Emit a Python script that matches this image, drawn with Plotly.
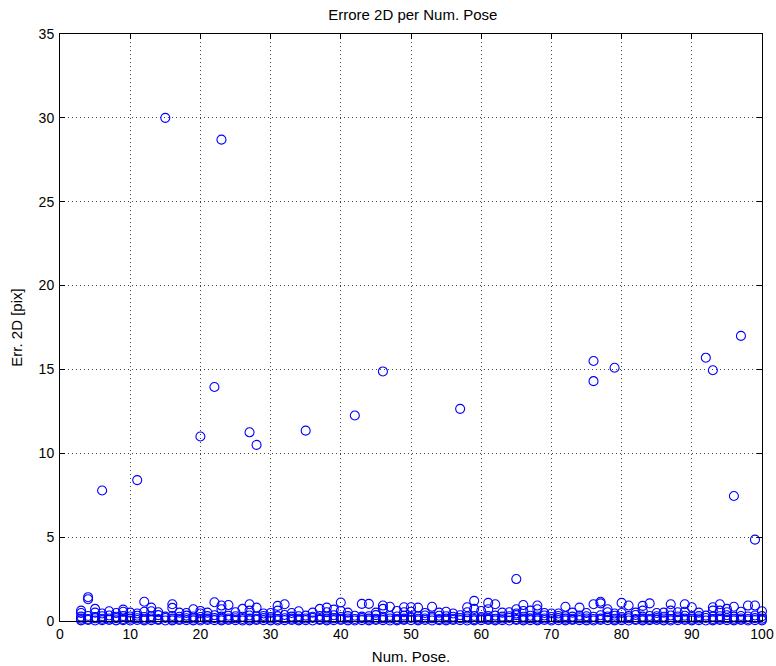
import plotly.graph_objects as go

# Pose indices recorded in the test run
poses = list(range(3, 101))

# Three lowest reprojection errors for every pose [pix]
err_low = [0.04, 0.06, 0.03, 0.05, 0.07, 0.04, 0.05, 0.03, 0.06, 0.04,
           0.05, 0.07, 0.03, 0.04, 0.06, 0.05, 0.04, 0.03, 0.06, 0.05,
           0.04, 0.07, 0.05, 0.03, 0.04, 0.06, 0.05, 0.04, 0.03, 0.05,
           0.06, 0.04, 0.05, 0.03, 0.07, 0.04, 0.05, 0.06, 0.04, 0.03,
           0.05, 0.04, 0.06, 0.05, 0.03, 0.04, 0.07, 0.05, 0.04, 0.06,
           0.03, 0.05, 0.04, 0.06, 0.05, 0.03, 0.04, 0.05, 0.07, 0.04,
           0.05, 0.03, 0.06, 0.04, 0.05, 0.04, 0.06, 0.03, 0.05, 0.04,
           0.07, 0.05, 0.04, 0.03, 0.06, 0.05, 0.04, 0.05, 0.03, 0.06,
           0.04, 0.05, 0.07, 0.04, 0.03, 0.05, 0.06, 0.04, 0.05, 0.03,
           0.04, 0.06, 0.05, 0.04, 0.07, 0.03, 0.05, 0.04]
err_mid = [0.14, 0.12, 0.16, 0.13, 0.15, 0.17, 0.12, 0.14, 0.16, 0.13,
           0.15, 0.12, 0.18, 0.14, 0.13, 0.16, 0.15, 0.12, 0.14, 0.17,
           0.13, 0.15, 0.16, 0.12, 0.14, 0.13, 0.17, 0.15, 0.12, 0.16,
           0.14, 0.13, 0.15, 0.18, 0.12, 0.14, 0.16, 0.13, 0.15, 0.12,
           0.17, 0.14, 0.13, 0.16, 0.15, 0.12, 0.14, 0.18, 0.13, 0.15,
           0.16, 0.12, 0.14, 0.13, 0.17, 0.15, 0.12, 0.16, 0.14, 0.13,
           0.15, 0.18, 0.12, 0.14, 0.16, 0.13, 0.15, 0.12, 0.17, 0.14,
           0.13, 0.16, 0.15, 0.12, 0.14, 0.18, 0.13, 0.15, 0.16, 0.12,
           0.14, 0.13, 0.17, 0.15, 0.12, 0.16, 0.14, 0.13, 0.15, 0.18,
           0.12, 0.14, 0.16, 0.13, 0.15, 0.12, 0.17, 0.14]
err_high = [0.26, 0.30, 0.24, 0.28, 0.33, 0.25, 0.29, 0.27, 0.31, 0.24,
            0.28, 0.35, 0.26, 0.30, 0.25, 0.32, 0.27, 0.24, 0.29, 0.34,
            0.26, 0.31, 0.28, 0.25, 0.33, 0.27, 0.30, 0.24, 0.29, 0.36,
            0.26, 0.28, 0.32, 0.25, 0.30, 0.27, 0.34, 0.24, 0.29, 0.31,
            0.26, 0.28, 0.35, 0.25, 0.30, 0.27, 0.32, 0.24, 0.29, 0.33,
            0.26, 0.31, 0.28, 0.25, 0.34, 0.27, 0.30, 0.24, 0.29, 0.32,
            0.26, 0.28, 0.35, 0.25, 0.31, 0.27, 0.33, 0.24, 0.30, 0.29,
            0.26, 0.32, 0.28, 0.25, 0.34, 0.27, 0.31, 0.24, 0.29, 0.36,
            0.26, 0.30, 0.28, 0.25, 0.33, 0.27, 0.31, 0.24, 0.29, 0.32,
            0.26, 0.28, 0.34, 0.25, 0.30, 0.27, 0.33, 0.29]

# Further errors, pose by pose
extra_pose = [3, 3, 4, 4, 5, 5, 6, 6, 7, 8, 9, 9, 10, 11, 11, 12, 12, 13, 13,
              14, 15, 16, 16, 17, 18, 19, 20, 20, 20, 21, 22, 22, 23, 23, 23,
              24, 25, 26, 27, 27, 27, 28, 28, 29, 30, 31, 31, 32, 33, 34, 35,
              36, 37, 38, 38, 39, 40, 40, 41, 42, 43, 44, 45, 46, 46, 46, 47,
              48, 49, 49, 50, 50, 51, 52, 53, 54, 55, 56, 57, 58, 58, 59, 59,
              60, 61, 61, 62, 63, 64, 65, 65, 65, 66, 66, 67, 68, 68, 69, 70,
              71, 72, 73, 74, 75, 76, 76, 76, 77, 77, 78, 78, 79, 79, 80, 80,
              81, 82, 83, 83, 84, 85, 86, 87, 87, 88, 89, 89, 90, 91, 92, 93,
              93, 93, 94, 94, 95, 95, 96, 96, 97, 97, 98, 99, 99, 100]
extra_err = [0.62, 0.48, 1.42, 1.30, 0.72, 0.50, 7.78, 0.45, 0.58, 0.48, 0.55,
             0.68, 0.50, 8.40, 0.45, 1.15, 0.55, 0.80, 0.58, 0.52, 30.0, 1.00,
             0.78, 0.50, 0.48, 0.70, 11.00, 0.60, 0.45, 0.50, 13.95, 1.12,
             28.70, 0.92, 0.70, 0.95, 0.52, 0.72, 11.25, 1.00, 0.62, 10.50,
             0.80, 0.45, 0.48, 0.90, 0.62, 1.00, 0.48, 0.58, 11.35, 0.50,
             0.72, 0.80, 0.52, 0.68, 1.10, 0.60, 0.50, 12.25, 1.02, 1.02,
             0.50, 14.88, 0.92, 0.72, 0.85, 0.60, 0.82, 0.52, 0.55, 0.82, 0.80,
             0.48, 0.85, 0.50, 0.55, 0.45, 12.65, 0.82, 0.52, 1.20, 0.72,
             0.60, 1.08, 0.70, 1.00, 0.50, 0.52, 2.50, 0.70, 0.45, 0.95, 0.60,
             0.62, 0.92, 0.70, 0.48, 0.45, 0.45, 0.85, 0.50, 0.80, 0.48,
             15.50, 14.30, 1.00, 1.15, 1.05, 0.70, 0.52, 15.10, 0.45, 1.08,
             0.48, 0.92, 0.50, 0.90, 0.62, 1.05, 0.48, 0.50, 1.00, 0.62,
             0.52, 1.00, 0.55, 0.82, 0.50, 15.70, 14.95, 0.82, 0.62, 1.00,
             0.62, 0.72, 0.52, 7.45, 0.85, 17.00, 0.55, 0.92, 4.85, 0.92, 0.58]

x_all = poses * 3 + extra_pose
y_all = err_low + err_mid + err_high + extra_err

fig = go.Figure()
fig.add_trace(go.Scatter(
    x=x_all, y=y_all, mode="markers",
    marker=dict(symbol="circle-open", size=9, color="#0000ff",
                line=dict(width=1.1, color="#0000ff")),
    cliponaxis=False, showlegend=False,
))

family = "Liberation Sans, Arial, sans-serif"
tick_font = dict(family=family, size=14, color="#000")
label_font = dict(family=family, size=15, color="#000")
common = dict(
    showline=True, linecolor="#000", linewidth=1, mirror="allticks",
    ticks="inside", ticklen=5, tickcolor="#000",
    showgrid=True, gridcolor="#444", gridwidth=1, griddash="1px,3px",
    zeroline=False, tickfont=tick_font, automargin=False,
)
fig.update_xaxes(range=[0, 100], dtick=10, tick0=0,
                 title=dict(text="Num. Pose.", font=label_font, standoff=10),
                 **common)
fig.update_yaxes(range=[0, 35], dtick=5, tick0=0, ticklabelstandoff=2,
                 title=dict(text="Err. 2D [pix]", font=label_font, standoff=12),
                 **common)

fig.update_layout(
    width=776, height=666,
    margin=dict(l=60, r=14, t=34, b=45),
    paper_bgcolor="#fff", plot_bgcolor="#fff",
    title=dict(text="Errore 2D per Num. Pose", x=0.532, xanchor="center",
               y=0.978, yanchor="middle", font=label_font),
)

fig.write_html("out.html")
